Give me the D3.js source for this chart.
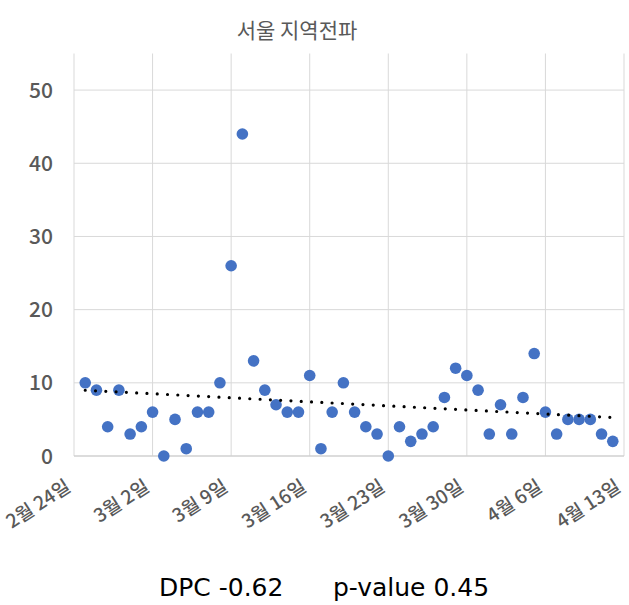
<!DOCTYPE html>
<html>
<head>
<meta charset="utf-8">
<script src="https://cdn.jsdelivr.net/npm/d3@7"></script>
<style>
  html, body { margin: 0; padding: 0; background: #fff; }
  svg { display: block; }
</style>
</head>
<body>
<svg id="chart" width="629" height="605"></svg>
<script>
const title = "서울 지역전파";
const dates = [
  "2020-02-25","2020-02-26","2020-02-27","2020-02-28","2020-02-29",
  "2020-03-01","2020-03-02","2020-03-03","2020-03-04","2020-03-05","2020-03-06","2020-03-07","2020-03-08",
  "2020-03-09","2020-03-10","2020-03-11","2020-03-12","2020-03-13","2020-03-14","2020-03-15",
  "2020-03-16","2020-03-17","2020-03-18","2020-03-19","2020-03-20","2020-03-21","2020-03-22",
  "2020-03-23","2020-03-24","2020-03-25","2020-03-26","2020-03-27","2020-03-28","2020-03-29",
  "2020-03-30","2020-03-31","2020-04-01","2020-04-02","2020-04-03","2020-04-04","2020-04-05",
  "2020-04-06","2020-04-07","2020-04-08","2020-04-09","2020-04-10","2020-04-11","2020-04-12"
];
const cases = [
  10, 9, 4, 9, 3,
  4, 6, 0, 5, 1, 6, 6, 10,
  26, 44, 13, 9, 7, 6, 6,
  11, 1, 6, 10, 6, 4, 3,
  0, 4, 2, 3, 4, 8, 12,
  11, 9, 3, 7, 3, 8, 14,
  6, 3, 5, 5, 5, 3, 2
];
const tickDates = ["2020-02-24","2020-03-02","2020-03-09","2020-03-16","2020-03-23","2020-03-30","2020-04-06","2020-04-13"];
const tickLabels = ["2월 24일","3월 2일","3월 9일","3월 16일","3월 23일","3월 30일","4월 6일","4월 13일"];
const yTicks = [0, 10, 20, 30, 40, 50];
const yMax = 55;
const statsLeft = "DPC -0.62";
const statsRight = "p-value 0.45";

(function () {
const parse = d3.utcParse("%Y-%m-%d");
const pts = dates.map((d, i) => ({ date: parse(d), v: cases[i] }));
const ticks = tickDates.map(parse);

const svg = d3.select("#chart");
const pLeft = 74, pRight = 624, pTop = 53.5, pBottom = 456;
const x = d3.scaleUtc().domain([ticks[0], ticks[ticks.length - 1]]).range([pLeft, pRight]);
const y = d3.scaleLinear().domain([0, yMax]).range([pBottom, pTop]);

const font = "'Noto Sans CJK KR', 'Noto Sans', sans-serif";
const grid = "#d9d9d9";
const labelColor = "#595959";

svg.append("g").selectAll("line").data(yTicks.filter(d => d > 0)).join("line")
  .attr("x1", pLeft).attr("x2", pRight)
  .attr("y1", d => y(d)).attr("y2", d => y(d))
  .attr("stroke", grid).attr("stroke-width", 1);

svg.append("g").selectAll("line").data(ticks).join("line")
  .attr("x1", d => x(d)).attr("x2", d => x(d))
  .attr("y1", pTop).attr("y2", pBottom)
  .attr("stroke", grid).attr("stroke-width", 1);

svg.append("line")
  .attr("x1", pLeft).attr("x2", pRight)
  .attr("y1", y(0)).attr("y2", y(0))
  .attr("stroke", "#d0d0d0").attr("stroke-width", 1.3);

svg.append("g").selectAll("text").data(yTicks).join("text")
  .attr("x", 53).attr("y", d => y(d))
  .attr("dy", "0.36em")
  .attr("text-anchor", "end")
  .attr("font-family", font).attr("font-size", 21)
  .attr("font-weight", 500)
  .attr("fill", labelColor)
  .text(d => d);

svg.append("g").selectAll("text").data(ticks).join("text")
  .attr("transform", d => `translate(${x(d) - 2},${pBottom + 34}) rotate(-33)`)
  .attr("text-anchor", "end")
  .attr("font-family", font).attr("font-size", 19)
  .attr("font-weight", 500)
  .attr("fill", labelColor)
  .text((d, i) => tickLabels[i]);

svg.append("text")
  .attr("x", 297).attr("y", 38)
  .attr("text-anchor", "middle")
  .attr("font-family", font).attr("font-size", 21)
  .attr("fill", labelColor)
  .text(title);

const t0 = ticks[0].getTime();
const xs = pts.map(p => (p.date.getTime() - t0) / 864e5);
const ys = pts.map(p => p.v);
const mx = d3.mean(xs), my = d3.mean(ys);
const slope = d3.sum(xs.map((xi, i) => (xi - mx) * (ys[i] - my))) / d3.sum(xs.map(xi => (xi - mx) ** 2));
const icpt = my - slope * mx;
const ends = [pts[0].date, pts[pts.length - 1].date];
const line = d3.line().x(d => x(d)).y(d => y(icpt + slope * ((d.getTime() - t0) / 864e5)));

svg.append("g").selectAll("circle").data(pts).join("circle")
  .attr("cx", d => x(d.date)).attr("cy", d => y(d.v))
  .attr("r", 5.8)
  .attr("fill", "#4472c4");

svg.append("path")
  .attr("d", line(ends))
  .attr("fill", "none")
  .attr("stroke", "#000")
  .attr("stroke-width", 3.2)
  .attr("stroke-linecap", "round")
  .attr("stroke-dasharray", "0 10.3");

const statFont = "'DejaVu Sans', 'Noto Sans', sans-serif";
svg.append("text")
  .attr("x", 159).attr("y", 596)
  .attr("font-family", statFont).attr("font-size", 25)
  .attr("fill", "#000")
  .text(statsLeft);
svg.append("text")
  .attr("x", 333).attr("y", 596)
  .attr("font-family", statFont).attr("font-size", 25)
  .attr("fill", "#000")
  .text(statsRight);
})();
</script>
</body>
</html>
